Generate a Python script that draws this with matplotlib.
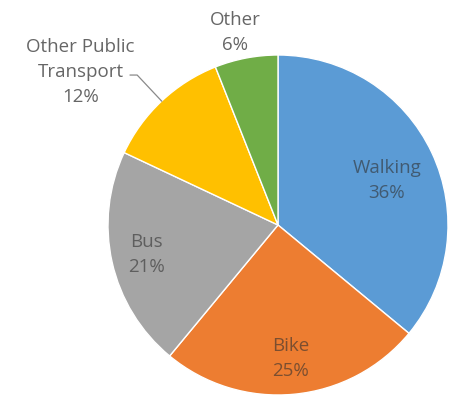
import numpy as np
import matplotlib
matplotlib.use('Agg')
import matplotlib.pyplot as plt

plt.rcParams['font.family'] = ['Open Sans', 'DejaVu Sans']

categories = ['Walking', 'Bike', 'Bus', 'Other Public\nTransport', 'Other']
shares     = [36, 25, 21, 12, 6]
colors     = ['#5B9BD5', '#ED7D31', '#A5A5A5', '#FFC000', '#70AD47']

# label placement: distance from centre (fraction of radius) and
# angular shift away from the wedge middle (degrees)
label_dist  = [0.69, 0.79, 0.79, 1.47, 1.16]
label_shift = [-3, 0, 0, 9, 1.8]
inside      = [True, True, True, False, False]

W, H = 458, 396
fig = plt.figure(figsize=(W / 100, H / 100), dpi=100)
ax = fig.add_axes([0, 0, 1, 1])

cx, cy, R = 278, H - 225, 170
wedges, _ = ax.pie(shares, colors=colors, startangle=90, counterclock=False,
                   center=(cx, cy), radius=R, frame=True,
                   wedgeprops=dict(edgecolor='white', linewidth=1.0))
ax.set_xlim(0, W)
ax.set_ylim(0, H)
ax.set_aspect('equal')
ax.axis('off')

for w, name, val, d, sh, inn in zip(wedges, categories, shares,
                                    label_dist, label_shift, inside):
    ang = np.deg2rad((w.theta1 + w.theta2) / 2 + sh)
    tx = cx + d * R * np.cos(ang)
    ty = cy + d * R * np.sin(ang)
    txt = f'{name}\n{val}%'
    if inn:
        ax.text(tx, ty, txt, ha='center', va='center', fontsize=13.5,
                color='#303030', alpha=0.6, linespacing=1.5)
    else:
        ax.text(tx, ty, txt, ha='center', va='center', fontsize=13.5,
                color='#666666', linespacing=1.5)

# leader line for the small yellow slice
w = wedges[3]
mid = np.deg2rad((w.theta1 + w.theta2) / 2)
p0 = (cx + R * np.cos(mid), cy + R * np.sin(mid))
p1 = (cx + 1.21 * R * np.cos(mid), cy + 1.21 * R * np.sin(mid))
p2 = (p1[0] - 7, p1[1])
ax.plot([p0[0], p1[0], p2[0]], [p0[1], p1[1], p2[1]], color='#8a8a8a', lw=0.9)

fig.savefig('out.png', dpi=100, facecolor='white')
